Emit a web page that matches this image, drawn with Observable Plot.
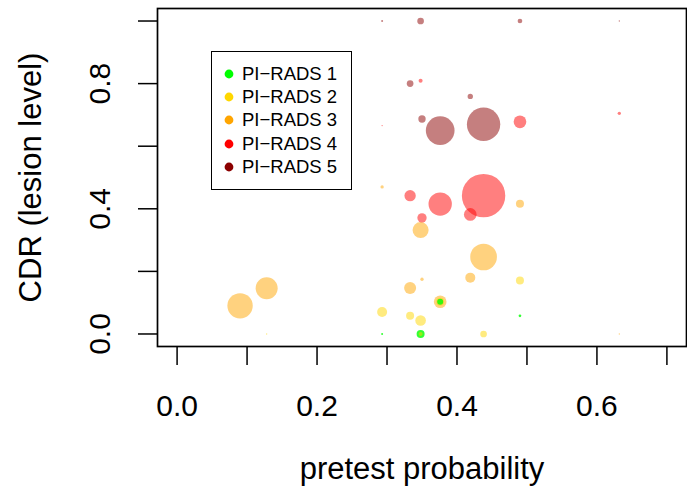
<!DOCTYPE html>
<html>
<head>
<meta charset="utf-8">
<script src="https://cdn.jsdelivr.net/npm/d3@7"></script>
<script src="https://cdn.jsdelivr.net/npm/@observablehq/plot@0.6"></script>
<style>
  html, body { margin: 0; padding: 0; background: #fff; }
  #wrap { position: relative; width: 687px; height: 499px; font-family: "Liberation Sans", Arial, Helvetica, sans-serif; }
  #legend { position: absolute; left: 211px; top: 51px; width: 141px; height: 139px; box-sizing: border-box;
            border: 1.7px solid #000; background: #fff; padding-top: 10.5px; }
  .row { height: 23.2px; display: flex; align-items: center; font-size: 18.5px; color: #000; }
  .row svg { margin-left: 12px; margin-right: 8px; }
</style>
</head>
<body>
<div id="wrap"><div id="legend"></div></div>
<script>
// ---- data ----
const categories = ["PI\u2212RADS 1", "PI\u2212RADS 2", "PI\u2212RADS 3", "PI\u2212RADS 4", "PI\u2212RADS 5"];
const colors = ["#00FF00", "#FFD700", "#FFA500", "#FF0000", "#8B0000"];

// pretest probability, CDR, weight (lesion count) per PI-RADS category
const pr1_x = [0.376, 0.490, 0.348, 0.293];
const pr1_y = [0.103, 0.058, 0.000, 0.000];
const pr1_n = [9, 4, 12, 3];

const pr2_x = [0.490, 0.376, 0.333, 0.348, 0.438, 0.128, 0.293, 0.348];
const pr2_y = [0.171, 0.103, 0.058, 0.043, 0.000, 0.000, 0.070, 0.000];
const pr2_n = [12, 12, 12, 16, 10, 2, 15, 6];

const pr3_x = [0.293, 0.490, 0.348, 0.438, 0.350, 0.419, 0.333, 0.376, 0.090, 0.128, 0.632];
const pr3_y = [0.470, 0.416, 0.332, 0.246, 0.175, 0.180, 0.147, 0.103, 0.090, 0.146, 0.000];
const pr3_n = [5, 12, 24, 40, 5, 15, 18, 19, 38, 33, 2];

const pr4_x = [0.348, 0.293, 0.490, 0.632, 0.333, 0.376, 0.438, 0.350, 0.419];
const pr4_y = [0.809, 0.666, 0.678, 0.705, 0.442, 0.415, 0.442, 0.371, 0.382];
const pr4_n = [6, 2, 19, 5, 17, 35, 65, 14, 19];

const pr5_x = [0.293, 0.348, 0.490, 0.632, 0.333, 0.419, 0.350, 0.376, 0.438];
const pr5_y = [1.000, 1.000, 1.000, 1.000, 0.800, 0.759, 0.687, 0.650, 0.670];
const pr5_n = [3, 10, 7, 2, 10, 8, 11, 43, 50];

const xTicks = [0, 0.1, 0.2, 0.3, 0.4, 0.5, 0.6, 0.7];
const xTickLabels = ["0.0", "", "0.2", "", "0.4", "", "0.6", ""];
const yTicks = [0, 0.2, 0.4, 0.6, 0.8, 1.0];
const yLabelValues = [0, 0.4, 0.8];
const yLabelTexts = ["0.0", "0.4", "0.8"];
const xTitle = "pretest probability";
const yTitle = "CDR (lesion level)";

// ---- build table ----
const groups = [
  [pr1_x, pr1_y, pr1_n], [pr2_x, pr2_y, pr2_n], [pr3_x, pr3_y, pr3_n],
  [pr4_x, pr4_y, pr4_n], [pr5_x, pr5_y, pr5_n]
];
const points = [];
groups.forEach(([xs, ys, ns], gi) => {
  xs.forEach((x, i) => points.push({cat: categories[gi], x, y: ys[i], n: ns[i]}));
});
const opacityByCat = new Map(categories.map((c, i) => [c, i === 0 ? 0.8 : 0.5]));
const xLabelMap = new Map(xTicks.map((t, i) => [t, xTickLabels[i]]));
const font = "'Liberation Sans', Arial, Helvetica, sans-serif";

const chart = Plot.plot({
  width: 687,
  height: 499,
  marginLeft: 157,
  marginRight: 1,
  marginTop: 8,
  marginBottom: 153,
  x: {domain: [-0.028, 0.728]},
  y: {domain: [-0.04, 1.04]},
  r: {type: "linear", domain: [0, 65], range: [0, 21.7]},
  color: {domain: categories, range: colors},
  style: {fontFamily: font, background: "white", color: "black"},
  marks: [
    Plot.dot(points, {x: "x", y: "y", r: "n", fill: "cat", fillOpacity: d => opacityByCat.get(d.cat), stroke: null}),
    Plot.frame({stroke: "black", strokeWidth: 1.7}),
    Plot.axisX({ticks: xTicks, tickSize: 19, tickPadding: 29, tickFormat: d => xLabelMap.get(d),
                fontSize: 30, strokeWidth: 1.5, label: null}),
    Plot.axisY({ticks: yTicks, tickSize: 19, tickFormat: () => "", strokeWidth: 1.5, label: null}),
    Plot.text(yLabelValues, {y: d => d, text: (d, i) => yLabelTexts[i], frameAnchor: "left", textAnchor: "middle",
                             dx: -57, rotate: -90, fontSize: 30, fill: "black"}),
    Plot.text([xTitle], {text: d => d, frameAnchor: "bottom", textAnchor: "middle", dy: 132, fontSize: 31, fill: "black"}),
    Plot.text([yTitle], {text: d => d, frameAnchor: "left", textAnchor: "middle", dx: -126, rotate: -90, fontSize: 31, fill: "black"})
  ]
});
const wrap = document.getElementById("wrap");
wrap.insertBefore(chart, wrap.firstChild);

// ---- legend ----
const legend = document.getElementById("legend");
categories.forEach((c, i) => {
  const row = document.createElement("div");
  row.className = "row";
  row.innerHTML = `<svg width="10" height="10"><circle cx="5" cy="5" r="4.4" fill="${colors[i]}"/></svg><span>${c}</span>`;
  legend.appendChild(row);
});
</script>
</body>
</html>
